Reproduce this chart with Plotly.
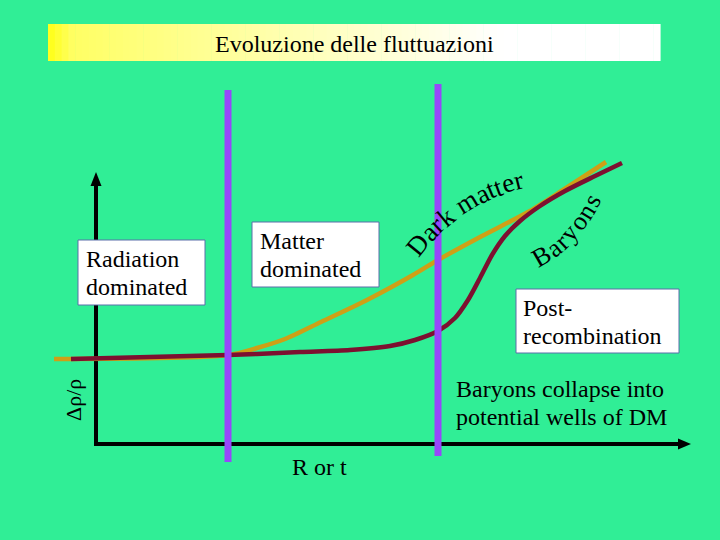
import math
import plotly.graph_objects as go

# ---- data (slide coordinates: x to the right, y downward) ----
dm_x = [54, 228, 257, 285, 321, 367, 413, 438, 482, 528, 563, 606]
dm_y = [359, 355, 348, 339, 322, 300, 275, 260, 236, 212, 190, 162]

bar_x = [71, 228, 300, 350, 390, 415, 438, 455, 468, 480, 492, 505, 520, 540, 565, 595, 622]
bar_y = [359, 355, 352, 350, 346, 340, 331, 318, 300, 278, 255, 236, 221, 206, 191, 176, 163]

title_text = "Evoluzione delle fluttuazioni"
boxes = [
    {"lines": ["Radiation", "dominated"], "x0": 78, "x1": 205, "y0": 240, "y1": 305, "tx": 86, "ty": [259, 287]},
    {"lines": ["Matter", "dominated"], "x0": 252, "x1": 379, "y0": 222, "y1": 287, "tx": 260, "ty": [241, 269]},
    {"lines": ["Post-", "recombination"], "x0": 516, "x1": 679, "y0": 289, "y1": 353, "tx": 523, "ty": [308, 336]},
]
dm_label = "Dark matter"
bar_label = "Baryons"
note_lines = ["Baryons collapse into", "potential wells of DM"]
xlabel = "R or t"
ylabel = "Δρ/ρ"
era_x = [228, 438]
era_top = [90, 84]
era_bottom = [462, 456]

BG = "rgb(48,238,150)"
SERIF = "Times New Roman, Liberation Serif, DejaVu Serif, serif"
GOLD = "rgb(206,160,22)"
MAROON = "rgb(125,16,48)"
PURPLE = "rgb(150,72,250)"
FS = 24

fig = go.Figure()

shapes = []
# title bar gradient (yellow -> white)
n = 90
x0, x1, ty0, ty1 = 48, 660, 24, 61
for i in range(n):
    a = x0 + (x1 - x0) * i / n
    b = x0 + (x1 - x0) * (i + 1) / n + 0.6
    t = (i + 0.5) / n
    if t < 0.04:
        blue = 20 + 2000 * t
    else:
        blue = 100 + 155 * min(1.0, (t - 0.04) / 0.7)
    blue = int(min(255, blue))
    shapes.append(dict(type="rect", x0=a, x1=b, y0=ty0, y1=ty1, xref="x", yref="y",
                       fillcolor=f"rgb(255,255,{blue})", line=dict(width=0), layer="below"))

# axes (lines + arrowheads), drawn beneath the boxes
shapes.append(dict(type="line", x0=96, x1=96, y0=446, y1=184, xref="x", yref="y",
                   line=dict(color="black", width=4), layer="below"))
shapes.append(dict(type="path", path="M 90.5,186 L 96,172 L 101.5,186 Z", xref="x", yref="y",
                   fillcolor="black", line=dict(width=0), layer="below"))
shapes.append(dict(type="line", x0=94, x1=680, y0=444, y1=444, xref="x", yref="y",
                   line=dict(color="black", width=4), layer="below"))
shapes.append(dict(type="path", path="M 678,438.5 L 691,444 L 678,449.5 Z", xref="x", yref="y",
                   fillcolor="black", line=dict(width=0), layer="below"))

# era lines
for ex, et, eb in zip(era_x, era_top, era_bottom):
    shapes.append(dict(type="line", x0=ex, x1=ex, y0=et, y1=eb, xref="x", yref="y",
                       line=dict(color=PURPLE, width=7), layer="above"))

# text boxes
for bx in boxes:
    shapes.append(dict(type="rect", x0=bx["x0"], x1=bx["x1"], y0=bx["y0"], y1=bx["y1"],
                       xref="x", yref="y", fillcolor="white",
                       line=dict(color="rgb(90,110,170)", width=1), layer="above"))

fig.add_trace(go.Scatter(x=dm_x, y=dm_y, mode="lines", line=dict(color=GOLD, width=4.5, shape="spline", smoothing=0.8),
                         hoverinfo="skip", showlegend=False))
fig.add_trace(go.Scatter(x=bar_x, y=bar_y, mode="lines", line=dict(color=MAROON, width=4.5, shape="spline", smoothing=0.8),
                         hoverinfo="skip", showlegend=False))

annotations = []
annotations.append(dict(x=354, y=44, text=title_text, showarrow=False,
                        font=dict(family=SERIF, size=24, color="black")))
for bx in boxes:
    for line, ly in zip(bx["lines"], bx["ty"]):
        annotations.append(dict(x=bx["tx"] - 2, y=ly, text=line, showarrow=False,
                                xanchor="left", font=dict(family=SERIF, size=FS, color="black")))
for line, ly in zip(note_lines, [389, 417]):
    annotations.append(dict(x=454, y=ly, text=line, showarrow=False, xanchor="left",
                            font=dict(family=SERIF, size=FS, color="black")))
annotations.append(dict(x=319, y=467, text=xlabel, showarrow=False, font=dict(family=SERIF, size=FS, color="black")))
annotations.append(dict(x=73, y=400, text=ylabel, showarrow=False, textangle=-90,
                        font=dict(family=SERIF, size=22, color="black")))

# letters along curved paths
ADV = {"D": .722, "a": .444, "r": .333, "k": .5, " ": .25, "m": .778, "t": .278, "e": .444,
       "B": .667, "y": .5, "o": .5, "n": .5, "s": .389}

def bez(p0, p1, p2, t):
    x = (1 - t) ** 2 * p0[0] + 2 * (1 - t) * t * p1[0] + t ** 2 * p2[0]
    y = (1 - t) ** 2 * p0[1] + 2 * (1 - t) * t * p1[1] + t ** 2 * p2[1]
    dx = 2 * (1 - t) * (p1[0] - p0[0]) + 2 * t * (p2[0] - p1[0])
    dy = 2 * (1 - t) * (p1[1] - p0[1]) + 2 * t * (p2[1] - p1[1])
    return x, y, dx, dy

def curved_text(text, p0, p1, p2, size, spacing=1.0):
    N = 400
    pts = [bez(p0, p1, p2, i / N) for i in range(N + 1)]
    cum = [0.0]
    for i in range(1, N + 1):
        cum.append(cum[-1] + math.hypot(pts[i][0] - pts[i - 1][0], pts[i][1] - pts[i - 1][1]))
    total = sum(ADV.get(c, .5) for c in text) * size * spacing
    s = (cum[-1] - total) / 2
    out = []
    for c in text:
        w = ADV.get(c, .5) * size * spacing
        target = s + w / 2
        s += w
        if c == " ":
            continue
        j = min(range(N + 1), key=lambda k: abs(cum[k] - target))
        x, y, dx, dy = pts[j]
        ang = math.degrees(math.atan2(dy, dx))
        out.append(dict(x=x, y=y, text=c, showarrow=False, textangle=ang,
                        font=dict(family=SERIF, size=size, color="black")))
    return out

annotations += curved_text(dm_label, (414, 250), (455, 196), (520, 180), 27, 1.05)
annotations += curved_text(bar_label, (525, 264), (570, 248), (598, 188), 26, 1.05)

fig.update_layout(
    width=720, height=540, margin=dict(l=0, r=0, t=0, b=0),
    paper_bgcolor=BG, plot_bgcolor=BG,
    font=dict(family=SERIF),
    xaxis=dict(range=[0, 720], visible=False, fixedrange=True),
    yaxis=dict(range=[540, 0], visible=False, fixedrange=True),
    shapes=shapes, annotations=annotations, showlegend=False,
)

fig.write_html("out.html", config={"displayModeBar": False},
               post_script="document.body.style.margin='0';document.body.style.background='" + BG + "';")
